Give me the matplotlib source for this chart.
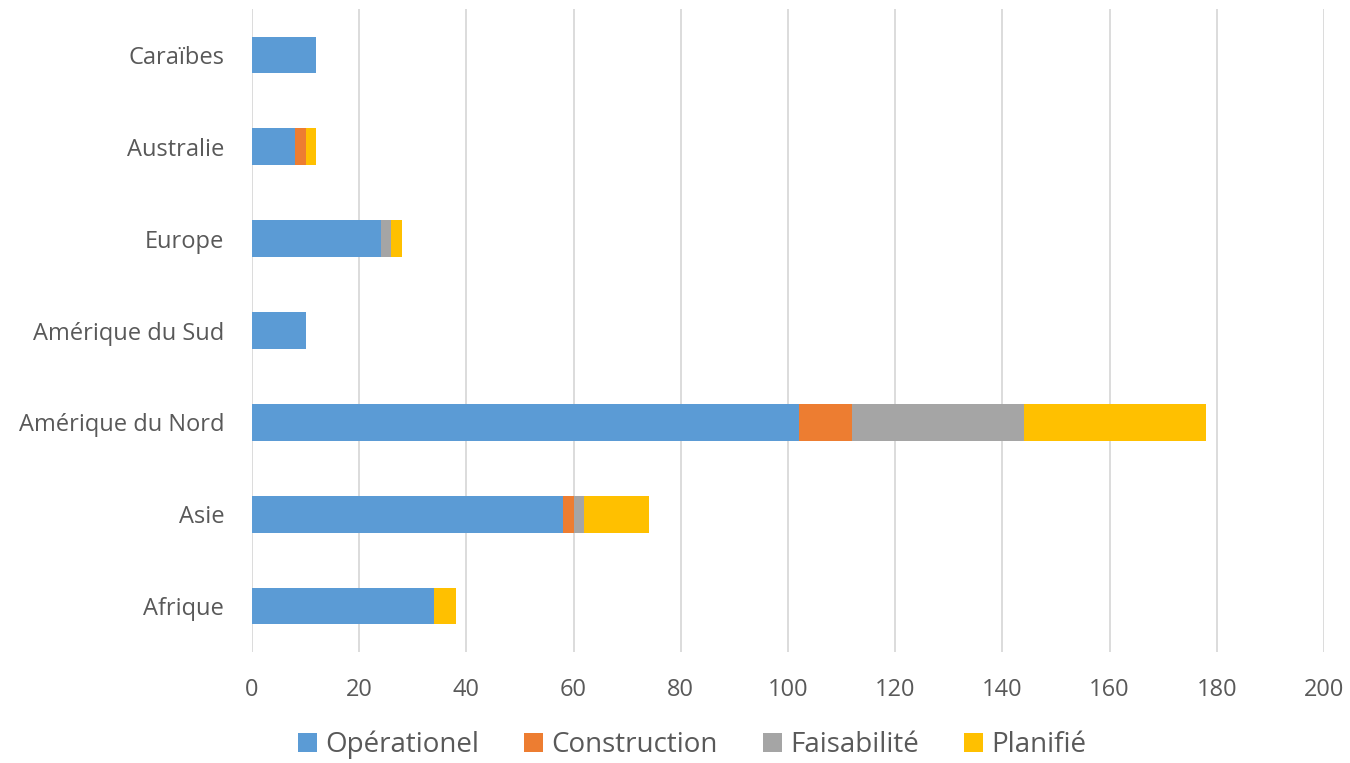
import matplotlib
matplotlib.use("Agg")
import matplotlib.pyplot as plt
import numpy as np

categories = ["Afrique", "Asie", "Amérique du Nord", "Amérique du Sud", "Europe", "Australie", "Caraïbes"]
operationel = [34, 58, 102, 10, 24, 8, 12]
construction = [0, 2, 10, 0, 0, 2, 0]
faisabilite = [0, 2, 32, 0, 2, 0, 0]
planifie = [4, 12, 34, 0, 2, 2, 0]
series_names = ["Opérationel", "Construction", "Faisabilité", "Planifié"]
colors = ["#5B9BD5", "#ED7D31", "#A5A5A5", "#FFC000"]

plt.rcParams['font.family'] = ['Open Sans', 'DejaVu Sans']

fig = plt.figure(figsize=(13.5, 7.63), dpi=100)
ax = fig.add_axes([252/1350, 1-652/763, (1324-252)/1350, (652-9)/763])

y = np.arange(len(categories))
left = np.zeros(len(categories))
for vals, name, c in zip([operationel, construction, faisabilite, planifie], series_names, colors):
    ax.barh(y, vals, left=left, height=0.4, color=c, label=name, zorder=3)
    left += np.array(vals)

ax.set_xlim(0, 200)
ax.set_ylim(-0.5, len(categories) - 0.5)
ax.set_xticks(np.arange(0, 201, 20))
ax.set_yticks(y)
ax.set_yticklabels(categories)
ax.grid(axis='x', color='#D9D9D9', linewidth=1.3, zorder=0)
for s in ax.spines.values():
    s.set_visible(False)
ax.tick_params(axis='both', length=0, labelsize=17, colors='#595959')
ax.tick_params(axis='x', pad=19)
ax.tick_params(axis='y', pad=20)

handles, labels = ax.get_legend_handles_labels()
leg = fig.legend(handles, labels, loc='center', bbox_to_anchor=(692/1350, 1-745/763), ncol=4,
                 frameon=False, fontsize=20, handlelength=0.7, handleheight=0.7,
                 handletextpad=0.3, columnspacing=1.6)
for t in leg.get_texts():
    t.set_color('#595959')

fig.savefig("out.png", dpi=100)
